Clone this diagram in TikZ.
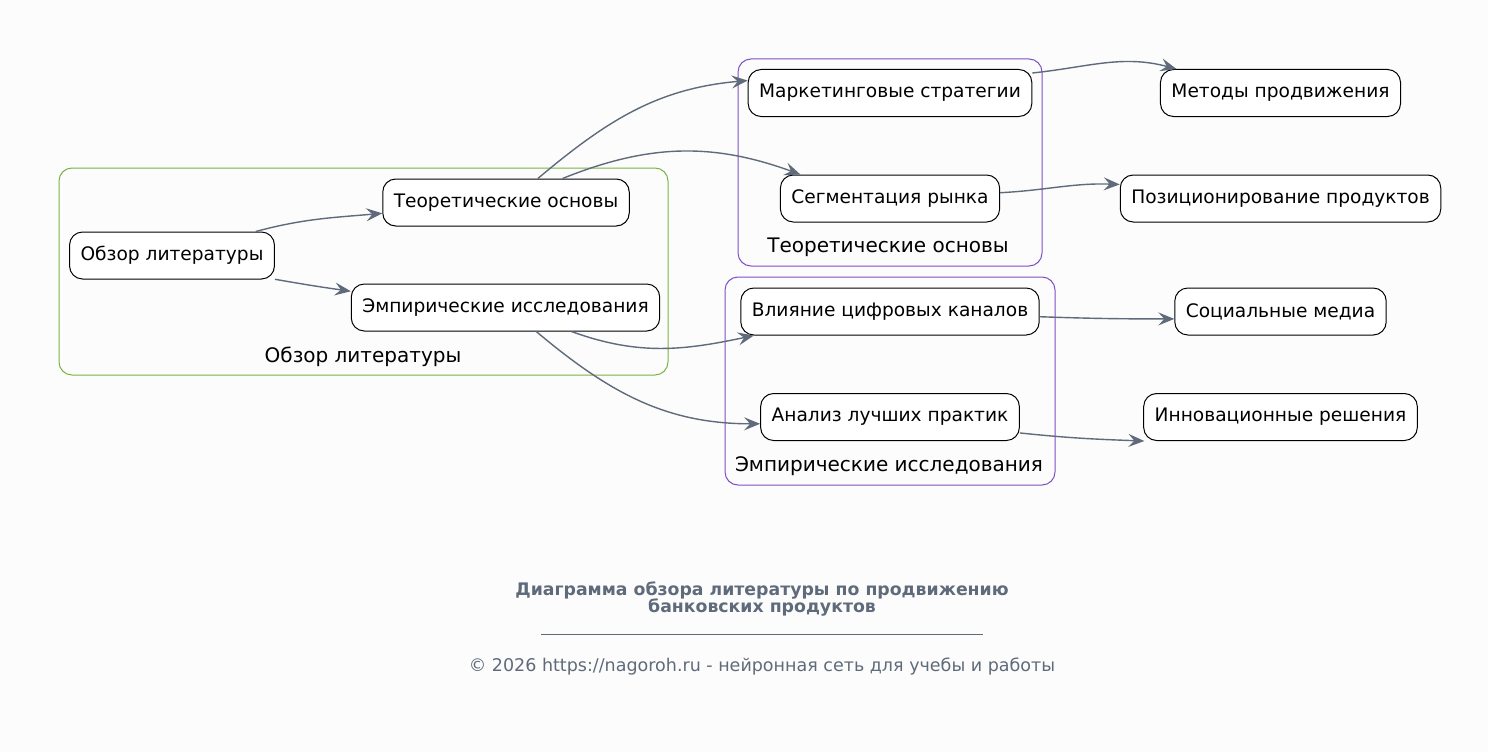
\documentclass[tikz,border=0pt]{standalone}
\usepackage{fontspec}
\setmainfont{DejaVu Sans}
\usepackage{tikz}
\usetikzlibrary{arrows.meta}

\definecolor{bgcol}{RGB}{252,252,252}
\definecolor{edgecol}{RGB}{95,107,122}
\definecolor{litgreen}{HTML}{7CB342}
\definecolor{clpurple}{HTML}{7E4FC9}

\tikzset{
  item/.style={draw=black, line width=1pt, rounded corners=13pt, fill=white,
    minimum height=47pt, inner xsep=11pt, font=\fontsize{18.6}{22}\selectfont},
  edge/.style={draw=edgecol, line width=1.4pt, -{Stealth[length=16pt,width=13pt,inset=6pt]}},
  cluster/.style={line width=1pt, rounded corners=13pt},
  cllabel/.style={font=\fontsize{20}{24}\selectfont},
}

\begin{document}
\begin{tikzpicture}[x=1pt,y=1pt]
\fill[bgcol] (0,0) rectangle (1488,-752);
\useasboundingbox (0,0) rectangle (1488,-752);

% clusters
\draw[cluster, litgreen] (59,-168) rectangle (668,-375);
\node[cllabel] (lbl1) at (363,-357) {Обзор литературы};
\draw[cluster, clpurple] (738,-59) rectangle (1042,-266);
\node[cllabel] (lbl2) at (888,-247) {Теоретические основы};
\draw[cluster, clpurple] (725,-277) rectangle (1055,-485);
\node[cllabel] (lbl3) at (889,-466) {Эмпирические исследования};

% nodes
\node[item] (ol) at (172,-255.5) {Обзор литературы};
\node[item] (to) at (506,-202.5) {Теоретические основы};
\node[item] (ei) at (505.5,-307.5) {Эмпирические исследования};
\node[item] (ms) at (890,-93) {Маркетинговые стратегии};
\node[item] (sr) at (890,-198.5) {Сегментация рынка};
\node[item] (vc) at (890,-311.5) {Влияние цифровых каналов};
\node[item] (ap) at (890,-417) {Анализ лучших практик};
\node[item] (mp) at (1280.5,-93) {Методы продвижения};
\node[item] (pp) at (1280.5,-198.5) {Позиционирование продуктов};
\node[item] (sm) at (1280.5,-311.5) {Социальные медиа};
\node[item] (ir) at (1280.5,-417) {Инновационные решения};

% edges
\draw[edge] (ol.16) to[out=15, in=185] (to.185);
\draw[edge] (ol.-13) to[out=-10, in=172] (ei.174);
\draw[edge] (to.37) to[out=40, in=185] (ms.175);
\draw[edge] (to.23) to[out=22, in=160] (sr.165);
\draw[edge] (ei.-20) to[out=-20, in=192] (vc.190);
\draw[edge] (ei.-38) to[out=-40, in=180] (ap.183);
\draw[edge] (ms.8) to[out=6, in=165] (mp.167);
\draw[edge] (sr.3) to[out=3, in=178] (pp.175);
\draw[edge] (vc.-2) to[out=-2, in=180] (sm.184);
\draw[edge] (ap.-7) to[out=-6, in=178] (ir.190);

% footer
\node[font=\bfseries\fontsize{17.3}{17.5}\selectfont, text=edgecol, align=center]
  (title) at (762,-599) {Диаграмма обзора литературы по продвижению\\банковских продуктов};
\coordinate (ruleL) at (541,-634);
\coordinate (ruleR) at (983,-634);
\draw[edgecol, line width=0.6pt] (ruleL) -- (ruleR);
\node[font=\fontsize{17.5}{20}\selectfont, text=edgecol] (copy) at (762,-667)
  {© 2026 https://nagoroh.ru - нейронная сеть для учебы и работы};
\end{tikzpicture}
\end{document}
